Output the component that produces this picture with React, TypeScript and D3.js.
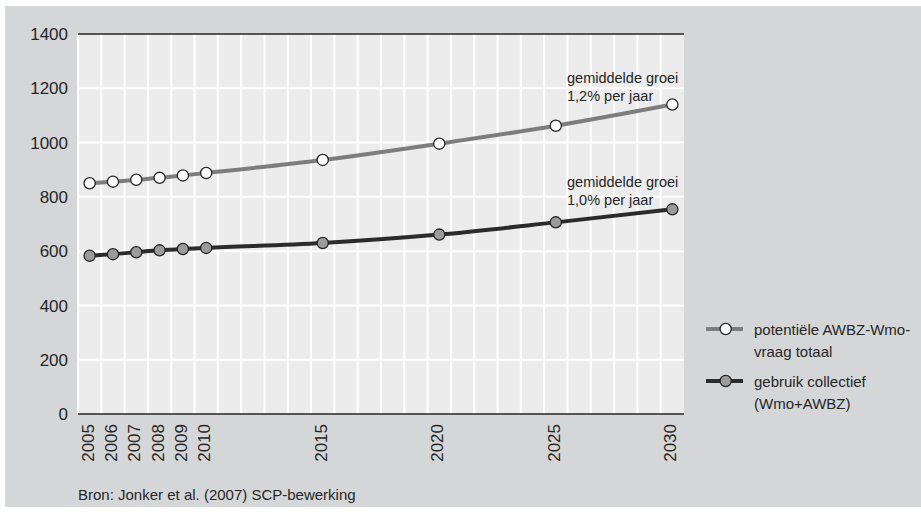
import React from "react";
import * as d3 from "d3";

// Years shown on the x axis and the two series
const years = [2005, 2006, 2007, 2008, 2009, 2010, 2015, 2020, 2025, 2030];
const potentieleVraag = [850, 856, 863, 870, 879, 888, 936, 996, 1062, 1140];
const gebruikCollectief = [583, 589, 596, 603, 608, 612, 630, 661, 706, 754];
const yTicks = [0, 200, 400, 600, 800, 1000, 1200, 1400];

const seriesNames = ["potentiële AWBZ-Wmo-|vraag totaal", "gebruik collectief|(Wmo+AWBZ)"];
const growthNotes = ["gemiddelde groei|1,2% per jaar", "gemiddelde groei|1,0% per jaar"];
const sourceNote = "Bron: Jonker et al. (2007) SCP-bewerking";

const W = 921;
const H = 516;
const FONT = "'Liberation Sans', Arial, sans-serif";

const PANEL = "#d5d6d8";
const PLOT_BG = "#ebeceb";
const INK = "#262626";

export default function App() {
  const x = d3.scaleLinear().domain([2004.5, 2030.5]).range([78, 684]);
  const y = d3.scaleLinear().domain([0, 1400]).range([414, 34]);

  const line = d3
    .line<[number, number]>()
    .x((d) => x(d[0]))
    .y((d) => y(d[1]))
    .curve(d3.curveMonotoneX);

  const series = [
    { values: potentieleVraag, stroke: "#7d7d7d", fill: "#ffffff", name: seriesNames[0], note: growthNotes[0] },
    { values: gebruikCollectief, stroke: "#2b2b2b", fill: "#9b9b9b", name: seriesNames[1], note: growthNotes[1] },
  ];

  const vGrid = d3.range(2004.5, 2030, 1);
  const hGrid = yTicks.filter((t) => t > 0 && t < 1400);

  const legendY = [329, 381];

  return (
    <svg
      width={W}
      height={H}
      style={{ position: "absolute", left: 0, top: 0, display: "block" }}
      fontFamily={FONT}
    >
      <rect x={0} y={0} width={W} height={H} fill="#ffffff" />
      <rect x={5} y={6} width={W - 5} height={501} fill={PANEL} />
      <rect x={x(2004.5)} y={y(1400)} width={x(2030.5) - x(2004.5)} height={y(0) - y(1400)} fill={PLOT_BG} />

      {/* grid */}
      {vGrid.map((v) => (
        <line key={`v${v}`} x1={x(v)} x2={x(v)} y1={y(1400)} y2={y(0)} stroke="#ffffff" strokeWidth={2} />
      ))}
      {hGrid.map((t) => (
        <line key={`h${t}`} x1={x(2004.5)} x2={x(2030.5)} y1={y(t)} y2={y(t)} stroke="#ffffff" strokeWidth={2} />
      ))}
      <line x1={x(2004.5)} x2={x(2030.5)} y1={y(1400)} y2={y(1400)} stroke={INK} strokeWidth={1.6} />
      <line x1={x(2004.5)} x2={x(2030.5)} y1={y(0)} y2={y(0)} stroke={INK} strokeWidth={1.6} />

      {/* y tick labels */}
      {yTicks.map((t) => (
        <text key={`yt${t}`} x={68} y={y(t)} dy="0.36em" textAnchor="end" fontSize={17} fill={INK}>
          {t}
        </text>
      ))}

      {/* x tick labels */}
      {years.map((yr) => (
        <text
          key={`xt${yr}`}
          transform={`translate(${x(yr) + 4},${424}) rotate(-90)`}
          textAnchor="end"
          fontSize={17}
          fill={INK}
        >
          {yr}
        </text>
      ))}

      {/* series */}
      {series.map((s, i) => {
        const pts = years.map((yr, j) => [yr, s.values[j]] as [number, number]);
        return (
          <g key={`s${i}`}>
            <path d={line(pts) || ""} fill="none" stroke={s.stroke} strokeWidth={4} />
            {pts.map((p, j) => (
              <circle key={j} cx={x(p[0])} cy={y(p[1])} r={5.6} fill={s.fill} stroke={INK} strokeWidth={1.3} />
            ))}
          </g>
        );
      })}

      {/* growth notes */}
      {series.map((s, i) => {
        const base = i === 0 ? 82.5 : 186.5;
        return s.note.split("|").map((ln, k) => (
          <text key={`n${i}${k}`} x={567} y={base + k * 18.2} fontSize={14.5} fill={INK}>
            {ln}
          </text>
        ));
      })}

      {/* legend */}
      {series.map((s, i) => (
        <g key={`lg${i}`}>
          <line x1={706} x2={743} y1={legendY[i]} y2={legendY[i]} stroke={s.stroke} strokeWidth={4} />
          <circle cx={725.7} cy={legendY[i]} r={5.6} fill={s.fill} stroke={INK} strokeWidth={1.3} />
          {s.name.split("|").map((ln, k) => (
            <text key={k} x={754} y={legendY[i] + 5.5 + k * 22.2} fontSize={15} fill={INK}>
              {ln}
            </text>
          ))}
        </g>
      ))}

      <text x={78} y={500} fontSize={15} fill={INK}>
        {sourceNote}
      </text>
    </svg>
  );
}
